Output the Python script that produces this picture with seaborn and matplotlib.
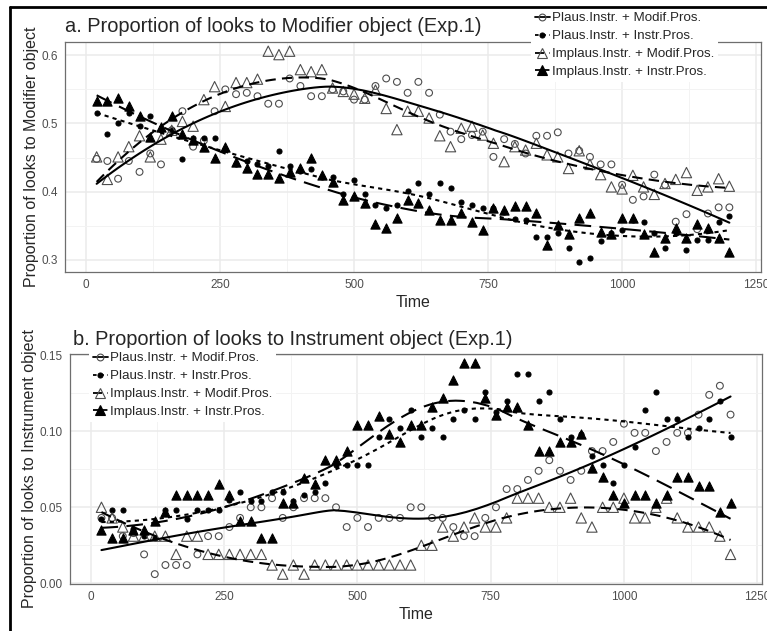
import numpy as np
import pandas as pd
import matplotlib
matplotlib.use("Agg")
import matplotlib.pyplot as plt
from matplotlib.lines import Line2D
import seaborn as sns

# time bins (ms)
times = np.arange(20, 1201, 20)

labels = ["Plaus.Instr. + Modif.Pros.", "Plaus.Instr. + Instr.Pros.",
          "Implaus.Instr. + Modif.Pros.", "Implaus.Instr. + Instr.Pros."]

# a. looks to Modifier object
mod_plaus_modif = [0.448, 0.445, 0.419, 0.445, 0.429, 0.456, 0.440, 0.490, 0.518, 0.466,
                   0.475, 0.518, 0.550, 0.543, 0.545, 0.540, 0.529, 0.529, 0.566, 0.555,
                   0.540, 0.540, 0.550, 0.547, 0.535, 0.535, 0.555, 0.566, 0.561, 0.545,
                   0.561, 0.545, 0.513, 0.488, 0.477, 0.483, 0.488, 0.451, 0.477, 0.470,
                   0.456, 0.482, 0.482, 0.487, 0.456, 0.460, 0.451, 0.440, 0.440, 0.410,
                   0.388, 0.393, 0.425, 0.410, 0.356, 0.367, 0.345, 0.368, 0.377, 0.377]
mod_plaus_instr = [0.516, 0.484, 0.500, 0.516, 0.497, 0.511, 0.490, 0.490, 0.448, 0.479,
                   0.479, 0.479, 0.462, 0.440, 0.445, 0.440, 0.438, 0.459, 0.438, 0.430,
                   0.433, 0.422, 0.422, 0.397, 0.417, 0.397, 0.380, 0.376, 0.380, 0.401,
                   0.412, 0.397, 0.412, 0.406, 0.385, 0.380, 0.376, 0.376, 0.370, 0.360,
                   0.359, 0.333, 0.333, 0.339, 0.318, 0.297, 0.302, 0.328, 0.340, 0.344,
                   0.359, 0.355, 0.340, 0.318, 0.340, 0.314, 0.329, 0.329, 0.355, 0.365]
mod_implaus_modif = [0.451, 0.418, 0.451, 0.466, 0.482, 0.451, 0.477, 0.490, 0.503, 0.496,
                     0.535, 0.554, 0.525, 0.560, 0.560, 0.565, 0.606, 0.601, 0.606, 0.579,
                     0.576, 0.579, 0.552, 0.547, 0.543, 0.537, 0.549, 0.522, 0.491, 0.518,
                     0.518, 0.508, 0.482, 0.466, 0.493, 0.496, 0.483, 0.471, 0.444, 0.466,
                     0.461, 0.471, 0.454, 0.451, 0.434, 0.460, 0.440, 0.425, 0.407, 0.404,
                     0.424, 0.407, 0.396, 0.412, 0.418, 0.428, 0.402, 0.407, 0.419, 0.408]
mod_implaus_instr = [0.533, 0.533, 0.537, 0.526, 0.511, 0.480, 0.495, 0.511, 0.485, 0.476,
                     0.465, 0.450, 0.465, 0.443, 0.434, 0.426, 0.426, 0.420, 0.429, 0.434,
                     0.450, 0.425, 0.414, 0.388, 0.393, 0.383, 0.353, 0.347, 0.362, 0.388,
                     0.383, 0.373, 0.359, 0.359, 0.368, 0.355, 0.344, 0.376, 0.373, 0.379,
                     0.379, 0.368, 0.322, 0.351, 0.338, 0.362, 0.368, 0.341, 0.338, 0.362,
                     0.362, 0.338, 0.311, 0.332, 0.347, 0.332, 0.353, 0.347, 0.332, 0.311]

# b. looks to Instrument object
ins_plaus_modif = [0.043, 0.043, 0.031, 0.033, 0.019, 0.006, 0.012, 0.012, 0.012, 0.019,
                   0.031, 0.031, 0.037, 0.043, 0.050, 0.050, 0.056, 0.043, 0.050, 0.056,
                   0.056, 0.056, 0.050, 0.037, 0.043, 0.037, 0.043, 0.043, 0.043, 0.050,
                   0.050, 0.043, 0.043, 0.037, 0.031, 0.031, 0.043, 0.050, 0.062, 0.062,
                   0.068, 0.074, 0.081, 0.074, 0.068, 0.074, 0.087, 0.087, 0.093, 0.105,
                   0.099, 0.099, 0.087, 0.093, 0.099, 0.099, 0.111, 0.124, 0.130, 0.111]
ins_plaus_instr = [0.042, 0.048, 0.048, 0.036, 0.031, 0.030, 0.048, 0.048, 0.042, 0.048,
                   0.048, 0.048, 0.055, 0.060, 0.054, 0.054, 0.060, 0.060, 0.054, 0.058,
                   0.060, 0.066, 0.078, 0.078, 0.078, 0.078, 0.096, 0.108, 0.102, 0.114,
                   0.096, 0.102, 0.096, 0.108, 0.114, 0.108, 0.126, 0.113, 0.120, 0.138,
                   0.138, 0.120, 0.126, 0.108, 0.096, 0.098, 0.084, 0.078, 0.066, 0.078,
                   0.090, 0.114, 0.126, 0.108, 0.108, 0.096, 0.102, 0.108, 0.120, 0.096]
ins_implaus_modif = [0.050, 0.043, 0.037, 0.031, 0.031, 0.031, 0.031, 0.019, 0.031, 0.031,
                     0.019, 0.019, 0.019, 0.019, 0.019, 0.019, 0.012, 0.006, 0.012, 0.006,
                     0.012, 0.012, 0.012, 0.012, 0.012, 0.012, 0.012, 0.012, 0.012, 0.012,
                     0.025, 0.025, 0.037, 0.031, 0.037, 0.043, 0.037, 0.037, 0.043, 0.056,
                     0.056, 0.056, 0.050, 0.050, 0.056, 0.043, 0.037, 0.050, 0.050, 0.056,
                     0.043, 0.043, 0.050, 0.056, 0.043, 0.037, 0.037, 0.037, 0.031, 0.019]
ins_implaus_instr = [0.035, 0.030, 0.030, 0.035, 0.035, 0.041, 0.047, 0.058, 0.058, 0.058,
                     0.058, 0.065, 0.058, 0.041, 0.041, 0.030, 0.030, 0.053, 0.053, 0.069,
                     0.065, 0.081, 0.081, 0.087, 0.104, 0.104, 0.110, 0.098, 0.093, 0.104,
                     0.104, 0.116, 0.122, 0.134, 0.145, 0.145, 0.122, 0.111, 0.116, 0.116,
                     0.104, 0.087, 0.087, 0.093, 0.093, 0.098, 0.076, 0.070, 0.058, 0.053,
                     0.058, 0.058, 0.053, 0.058, 0.070, 0.070, 0.064, 0.064, 0.047, 0.053]

# marker / line style per condition (ggplot shapes 1, 16, 2, 17)
styles = [
    dict(marker="o", fc="none", ec="#4d4d4d", s=24, ls="-"),
    dict(marker="o", fc="black", ec="black", s=13, ls=(0, (2, 2))),
    dict(marker="^", fc="none", ec="#4d4d4d", s=55, ls=(0, (5, 3))),
    dict(marker="^", fc="black", ec="black", s=44, ls=(0, (8, 4))),
]


def loess(x, y, xs, span=0.75):
    # local quadratic fit with tricube weights, like geom_smooth's default
    x = np.asarray(x, float)
    y = np.asarray(y, float)
    q = int(np.floor(len(x) * span))
    out = []
    for x0 in xs:
        d = np.abs(x - x0)
        h = np.sort(d)[q - 1]
        w = np.clip(1 - (d / h) ** 3, 0, None) ** 3
        X = np.column_stack([np.ones_like(x), x - x0, (x - x0) ** 2])
        sw = np.sqrt(w)
        beta = np.linalg.lstsq(X * sw[:, None], y * sw, rcond=None)[0]
        out.append(beta[0])
    return np.array(out)


sns.set_style("white")
plt.rcParams["font.family"] = ["Liberation Sans", "DejaVu Sans"]

W, H = 767, 631
fig = plt.figure(figsize=(W / 100, H / 100), dpi=100)


def px_axes(l, t, r, b):
    return fig.add_axes([l / W, 1 - b / H, (r - l) / W, (b - t) / H])


def draw_panel(ax, series, ylim, yticks, yminor, ylabel):
    xs = np.linspace(20, 1200, 120)
    for vals, st in zip(series, styles):
        df = pd.DataFrame({"Time": times, "p": vals})
        sns.scatterplot(data=df, x="Time", y="p", ax=ax, marker=st["marker"],
                        facecolor=st["fc"], edgecolor=st["ec"], linewidth=0.8,
                        s=st["s"], zorder=3, legend=False)
        sm = pd.DataFrame({"Time": xs, "p": loess(times, vals, xs)})
        sns.lineplot(data=sm, x="Time", y="p", ax=ax, color="black", lw=1.5,
                     linestyle=st["ls"], zorder=4, legend=False)
    ax.set_xlim(-39, 1259)
    ax.set_ylim(*ylim)
    ax.set_xticks([0, 250, 500, 750, 1000, 1250])
    ax.set_xticks([125, 375, 625, 875, 1125], minor=True)
    ax.set_yticks(yticks)
    ax.set_yticks(yminor, minor=True)
    ax.grid(True, which="major", color="#ebebeb", lw=1.1, zorder=0)
    ax.grid(True, which="minor", color="#f3f3f3", lw=0.7, zorder=0)
    ax.set_axisbelow(True)
    for sp in ax.spines.values():
        sp.set_color("#6e6e6e")
        sp.set_linewidth(0.9)
    ax.tick_params(which="major", length=3, width=0.8, color="#6e6e6e",
                   labelcolor="#4d4d4d", labelsize=8.5, pad=2)
    ax.tick_params(which="minor", length=0)
    ax.set_xlabel("Time", fontsize=11.5, labelpad=3)
    ax.set_ylabel(ylabel, fontsize=11.5, labelpad=2)


ax1 = px_axes(65, 42, 761, 272)
draw_panel(ax1, [mod_plaus_modif, mod_plaus_instr, mod_implaus_modif, mod_implaus_instr],
           (0.2822, 0.6195), [0.3, 0.4, 0.5, 0.6], [0.35, 0.45, 0.55],
           "Proportion of looks to Modifier object")
ax1.set_yticklabels(["0.3", "0.4", "0.5", "0.6"])
fig.text(65 / W, 1 - 32 / H, "a. Proportion of looks to Modifier object (Exp.1)",
         fontsize=14.4, ha="left", va="baseline")

ax2 = px_axes(70, 354, 762, 584)
draw_panel(ax2, [ins_plaus_modif, ins_plaus_instr, ins_implaus_modif, ins_implaus_instr],
           (-0.0005, 0.1509), [0.0, 0.05, 0.10, 0.15], [0.025, 0.075, 0.125],
           "Proportion of looks to Instrument object")
ax2.set_yticklabels(["0.00", "0.05", "0.10", "0.15"])
fig.text(73 / W, 1 - 345 / H, "b. Proportion of looks to Instrument object (Exp.1)",
         fontsize=14.4, ha="left", va="baseline")

handles = [Line2D([0], [0], color="black", lw=1.3, linestyle=st["ls"], marker=st["marker"],
                  markerfacecolor=st["fc"], markeredgecolor=st["ec"], markeredgewidth=0.8,
                  markersize=np.sqrt(st["s"]))
           for st in styles]
leg_kw = dict(frameon=True, facecolor="white", edgecolor="none", fancybox=False,
              framealpha=1, fontsize=9.6, handlelength=1.1, handletextpad=0.15,
              labelspacing=0.42, borderpad=0.3, borderaxespad=0)
fig.legend(handles, labels, loc="upper left", bbox_to_anchor=(531 / W, 1 - 8 / H), **leg_kw)
fig.legend(handles, labels, loc="upper left", bbox_to_anchor=(89 / W, 1 - 348 / H), **leg_kw)

# outer frame of the figure
fig.add_artist(Line2D([10 / W, 10 / W], [0, 1 - 7 / H], transform=fig.transFigure,
                      color="black", lw=2, zorder=10))
fig.add_artist(Line2D([10 / W, 1], [1 - 7 / H, 1 - 7 / H], transform=fig.transFigure,
                      color="black", lw=2, zorder=10))

fig.savefig("out.png", dpi=100)
